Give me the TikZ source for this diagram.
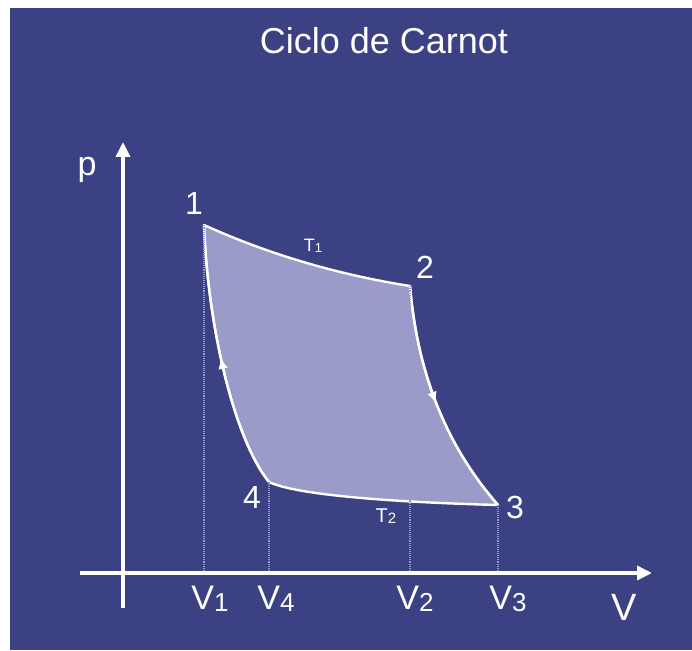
\documentclass[tikz,border=0pt]{standalone}
\usepackage{fontspec}
\setmainfont{Liberation Sans}
\usetikzlibrary{arrows.meta, positioning, decorations.markings}
\definecolor{slideblue}{HTML}{3B4183}
\definecolor{cyclefill}{HTML}{999BC8}
\definecolor{guidedot}{HTML}{959ACF}
\newcommand{\lowidx}[2][26]{\raisebox{-1.5pt}{\fontsize{#1}{#1}\selectfont #2}}
\tikzset{
  axis line/.style={draw=white, line width=3.5pt, -{Triangle[length=15pt, width=14pt]}},
  cycle line/.style={draw=white, line width=2.4pt, line join=round},
  guide/.style={draw=guidedot, line width=1.1pt, densely dotted},
  flowmark/.style={postaction={decorate, decoration={markings,
      mark=at position 0.5 with {\arrow{Latex[length=11pt, width=10pt]}}}}},
  state label/.style={text=white, inner sep=0pt, font=\fontsize{32}{34}\selectfont},
  temp label/.style={text=white, inner sep=0pt, font=\fontsize{18}{20}\selectfont},
  vol label/.style={text=white, inner sep=0pt, font=\fontsize{34}{36}\selectfont},
  axis label/.style={text=white, inner sep=0pt, font=\fontsize{34}{36}\selectfont},
  title text/.style={text=white, inner sep=0pt, font=\fontsize{36}{40}\selectfont}
}

\begin{document}
\begin{tikzpicture}[x=1pt, y=1pt, >=Latex]
  \useasboundingbox (0,0) rectangle (692,650);
  \fill[white] (0,0) rectangle (692,650);
  \fill[slideblue] (10,0) rectangle (692,642);

  \node[title text] (title) at (384,609) {Ciclo de Carnot};

  \coordinate (p1) at (204,425);
  \coordinate (p2) at (410,364);
  \coordinate (p3) at (498,145);
  \coordinate (p4) at (269,168);
  \coordinate (v1) at (204,77);
  \coordinate (v4) at (269,77);
  \coordinate (v2) at (410,77);
  \coordinate (v3) at (498,77);
  \coordinate (ybot) at (123,42);
  \coordinate (ytop) at (123,508);
  \coordinate (xleft) at (80,77);
  \coordinate (xright) at (652,77);

  \filldraw[cycle line, fill=cyclefill]
    (p1) .. controls (270,395) and (340,375) .. (p2)
         .. controls (418,270) and (450,200) .. (p3)
         .. controls (420,147) and (300,153) .. (p4)
         .. controls (235,210) and (208,320) .. (p1) -- cycle;
  \draw[cycle line, flowmark] (p2) .. controls (418,270) and (450,200) .. (p3);
  \draw[cycle line, flowmark] (p4) .. controls (235,210) and (208,320) .. (p1);

  \foreach \v/\p in {v1/p1, v4/p4, v2/p2, v3/p3}
    \draw[guide] (\v) -- (\p);

  \draw[axis line] (ybot) -- (ytop);
  \draw[axis line] (xleft) -- (xright);

  \node[state label, above left=10pt and 1pt of p1] (n1) {1};
  \node[state label, above right=7pt and 6pt of p2] (n2) {2};
  \node[state label, right=8pt of p3, yshift=-2pt] (n3) {3};
  \node[state label, below left=4pt and 8pt of p4] (n4) {4};
  \node[temp label] (t1) at (313,404) {T\lowidx[13]{1}};
  \node[temp label, font=\fontsize{20}{22}\selectfont] (t2) at (386,134) {T\lowidx[15]{2}};

  \node[axis label] (plabel) at (87,480) {p};
  \node[axis label, font=\fontsize{38}{40}\selectfont] (vlabel) at (624,43) {V};
  \node[vol label, below=13pt of v1, xshift=6pt] (lv1) {V\lowidx{1}};
  \node[vol label, below=13pt of v4, xshift=7pt] (lv4) {V\lowidx{4}};
  \node[vol label, below=13pt of v2, xshift=5pt] (lv2) {V\lowidx{2}};
  \node[vol label, below=13pt of v3, xshift=10pt] (lv3) {V\lowidx{3}};
\end{tikzpicture}
\end{document}
